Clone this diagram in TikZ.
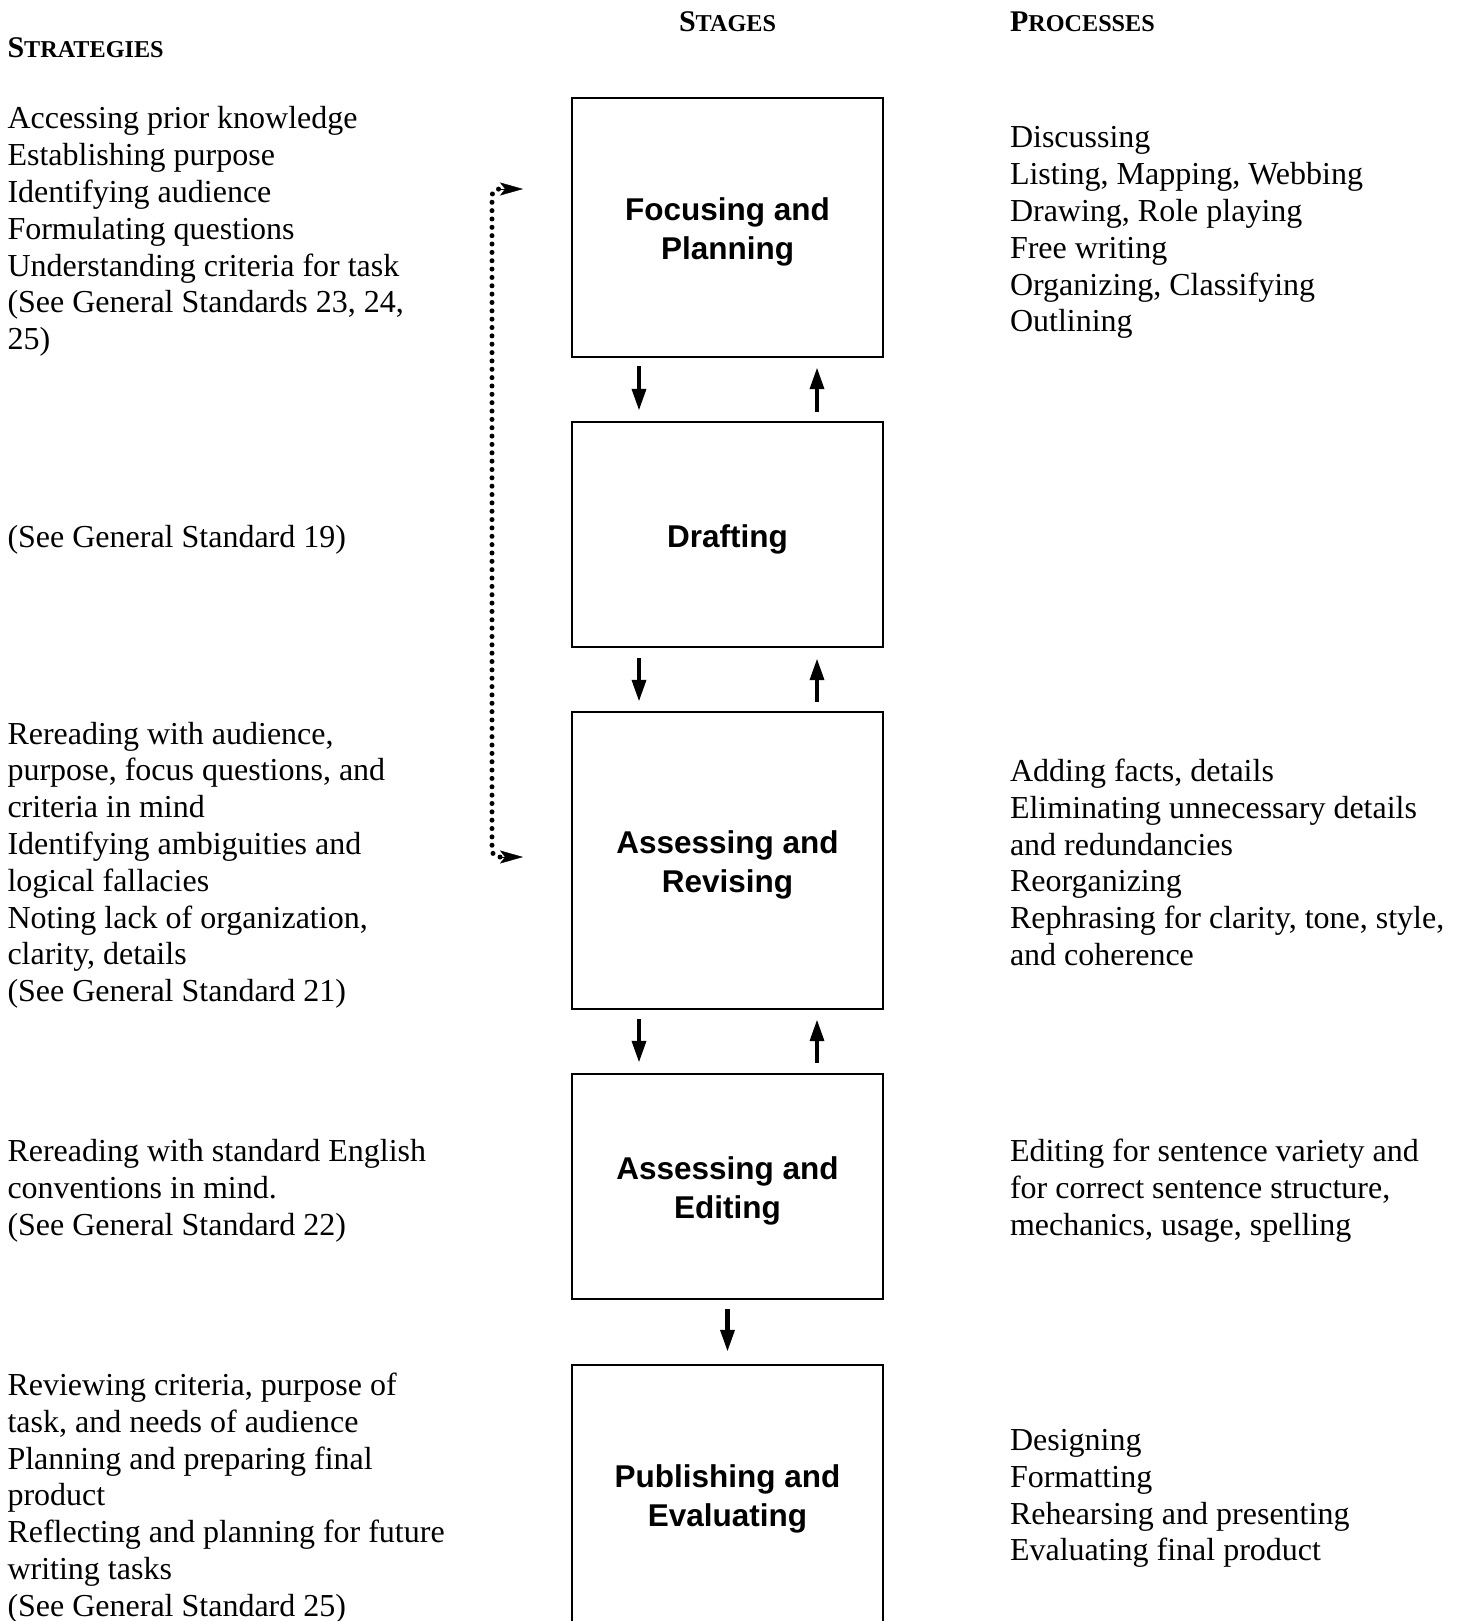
\documentclass[tikz,border=0pt]{standalone}
\usepackage{fontspec}
\setmainfont{Liberation Serif}
\newfontfamily\hvbold[BoldFont={Liberation Sans Bold}]{Liberation Sans}
\usetikzlibrary{arrows.meta}
\newcommand\txtblk[1]{\parbox[t]{700pt}{\fontsize{32}{36.8}\selectfont\raggedright #1}}
\newcommand\schead[2]{\textbf{{\fontsize{30}{30}\selectfont #1}{\fontsize{24.2}{30}\selectfont #2}}}
\tikzset{
  stagebox/.style={draw, line width=2.2pt, minimum width=311pt, inner sep=0pt},
  stagelabel/.style={inner sep=0pt, align=center,
    font=\hvbold\bfseries\fontsize{31.5}{38.8}\selectfont},
  txt/.style={anchor=base west, inner sep=0pt, outer sep=0pt},
  head/.style={anchor=base, inner sep=0pt},
  flowarr/.style={line width=4.6pt, -{Triangle[length=22pt,width=13.5pt]}},
  dotline/.style={line width=5pt, dash pattern=on 0pt off 8.35pt, line cap=round},
  dothead/.style={line width=0.4pt, -{Stealth[length=23pt,width=13pt,inset=5pt]}}
}
\begin{document}
\begin{tikzpicture}[x=1pt,y=-1pt]
\useasboundingbox (0,0) rectangle (1465,1621);

% headings
\node[txt] (hstrat) at (7.5,58) {\schead{S}{TRATEGIES}};
\node[head] (hstage) at (727.5,32) {\schead{S}{TAGES}};
\node[txt] (hproc) at (1010,32) {\schead{P}{ROCESSES}};

% stage boxes
\node[stagebox, minimum height=259pt] (b1) at (727.5,227.5) {};
\node[stagebox, minimum height=225pt] (b2) at (727.5,534.5) {};
\node[stagebox, minimum height=297pt] (b3) at (727.5,860.5) {};
\node[stagebox, minimum height=225pt] (b4) at (727.5,1186.5) {};
\node[stagebox, minimum height=261pt] (b5) at (727.5,1495.5) {};
\node[stagelabel] (l1) at ([yshift=-4.5pt]b1.center) {Focusing and\\Planning};
\node[stagelabel] (l2) at ([yshift=-5pt]b2.center) {Drafting};
\node[stagelabel] (l3) at ([yshift=-4.5pt]b3.center) {Assessing and\\Revising};
\node[stagelabel] (l4) at ([yshift=-4.5pt]b4.center) {Assessing and\\Editing};
\node[stagelabel] (l5) at ([yshift=-3.5pt]b5.center) {Publishing and\\Evaluating};

% arrows between boxes
\draw[flowarr, shorten <=8pt, shorten >=10pt] ([xshift=-88.5pt]b1.south) -- ([xshift=-88.5pt]b2.north);
\draw[flowarr, shorten <=9pt, shorten >=9pt] ([xshift=89.5pt]b2.north) -- ([xshift=89.5pt]b1.south);
\draw[flowarr, shorten <=10pt, shorten >=9pt] ([xshift=-88.5pt]b2.south) -- ([xshift=-88.5pt]b3.north);
\draw[flowarr, shorten <=9pt, shorten >=10pt] ([xshift=89.5pt]b3.north) -- ([xshift=89.5pt]b2.south);
\draw[flowarr, shorten <=9pt, shorten >=10pt] ([xshift=-88.5pt]b3.south) -- ([xshift=-88.5pt]b4.north);
\draw[flowarr, shorten <=10pt, shorten >=9pt] ([xshift=89.5pt]b4.north) -- ([xshift=89.5pt]b3.south);
\draw[flowarr, shorten <=9pt, shorten >=12pt] (b4.south) -- (b5.north);

% dotted return loop
\coordinate (dtopBase) at (500,189);
\coordinate (dtopHead) at (523,189);
\coordinate (dbotBase) at (500,857);
\coordinate (dbotHead) at (523,857);
\draw[dotline, rounded corners=7pt] (dbotBase) -- ++(-8,0) -- ++(0,-668) -- (dtopBase);
\draw[dothead] (dtopBase) -- (dtopHead);
\draw[dothead] (dbotBase) -- (dbotHead);

% strategies (left)
\node[txt] (s1) at (7.5,129) {\txtblk{Accessing prior knowledge\\Establishing purpose\\Identifying audience\\Formulating questions\\Understanding criteria for task\\(See General Standards 23, 24,\\25)}};
\node[txt] (s2) at (7.5,547.5) {\txtblk{(See General Standard 19)}};
\node[txt] (s3) at (7.5,744) {\txtblk{Rereading with audience,\\purpose, focus questions, and\\criteria in mind\\Identifying ambiguities and\\logical fallacies\\Noting lack of organization,\\clarity, details\\(See General Standard 21)}};
\node[txt] (s4) at (7.5,1161.5) {\txtblk{Rereading with standard English\\conventions in mind.\\(See General Standard 22)}};
\node[txt] (s5) at (7.5,1395.5) {\txtblk{Reviewing criteria, purpose of\\task, and needs of audience\\Planning and preparing final\\product\\Reflecting and planning for future\\writing tasks\\(See General Standard 25)}};

% processes (right)
\node[txt] (p1) at (1010,148) {\txtblk{Discussing\\Listing, Mapping, Webbing\\Drawing, Role playing\\Free writing\\Organizing, Classifying\\Outlining}};
\node[txt] (p3) at (1010,781.5) {\txtblk{Adding facts, details\\Eliminating unnecessary details\\and redundancies\\Reorganizing\\Rephrasing for clarity, tone, style,\\and coherence}};
\node[txt] (p4) at (1010,1161.5) {\txtblk{Editing for sentence variety and\\for correct sentence structure,\\mechanics, usage, spelling}};
\node[txt] (p5) at (1010,1450.5) {\txtblk{Designing\\Formatting\\Rehearsing and presenting\\Evaluating final product}};
\end{tikzpicture}
\end{document}
